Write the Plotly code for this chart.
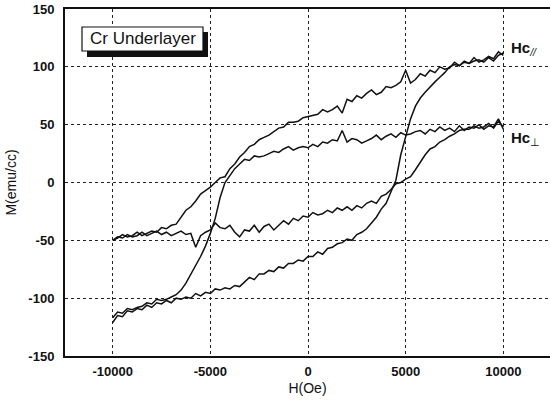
import plotly.graph_objects as go

# Field grids (Oe)
H_desc = [10000 - 250 * i for i in range(81)]
H_asc = [-10000 + 250 * i for i in range(81)]

# Branch A, descending (from +10000 to -10000)
M_a_desc = [110, 113, 107, 109, 106, 104, 108, 103, 105, 101,
            104, 99, 98, 100, 95, 97, 92, 94, 89, 86,
            97, 87, 84, 82, 83, 78, 76, 80, 77, 73,
            75, 70, 72, 60, 66, 63, 61, 63, 59, 58,
            57, 56, 53, 52, 52, 48, 47, 44, 41, 39,
            37, 33, 31, 26, 22, 16, 12, 5, 4, 0,
            -4, -7, -10, -16, -21, -24, -30, -36, -37, -40,
            -39, -43, -42, -44, -46, -43, -46, -47, -45, -48,
            -50]

# Branch A, ascending (from -10000 to +10000)
M_a_asc = [-50, -47, -48, -45, -47, -46, -43, -46, -44, -42,
           -45, -43, -46, -44, -42, -45, -44, -56, -46, -43,
           -41, -35, -39, -40, -37, -43, -47, -41, -42, -37,
           -43, -38, -36, -41, -37, -33, -36, -31, -33, -29,
           -30, -26, -28, -27, -24, -26, -22, -24, -21, -24,
           -20, -22, -18, -16, -18, -12, -10, -6, -1, 0,
           3, 5, 11, 18, 24, 29, 31, 35, 37, 40,
           42, 45, 46, 46, 49, 47, 48, 51, 47, 53,
           48]

# Branch B, descending (from +10000 to -10000)
M_b_desc = [46, 55, 48, 49, 46, 50, 47, 48, 45, 49,
            44, 47, 45, 48, 44, 46, 42, 45, 44, 42,
            41, 43, 39, 42, 40, 37, 41, 38, 36, 34,
            37, 38, 35, 45, 36, 37, 34, 35, 31, 33,
            30, 31, 30, 28, 31, 29, 26, 27, 25, 23,
            22, 23, 19, 20, 16, 12, 6, 0, -13, -31,
            -44, -55, -64, -72, -80, -87, -93, -97, -99, -101,
            -102, -101, -105, -104, -107, -108, -110, -109, -113, -112,
            -117]

# Branch B, ascending (from -10000 to +10000)
M_b_asc = [-121, -115, -116, -111, -112, -109, -110, -106, -108, -104,
           -105, -102, -104, -100, -101, -99, -100, -96, -98, -95,
           -96, -92, -93, -91, -92, -89, -90, -86, -82, -84,
           -79, -79, -76, -77, -73, -74, -70, -70, -67, -68,
           -64, -64, -60, -62, -57, -56, -53, -52, -49, -50,
           -45, -43, -40, -35, -30, -23, -18, -8, 2, 24,
           40, 55, 66, 73, 78, 83, 87, 91, 95, 100,
           102, 101, 104, 103, 105, 106, 104, 108, 105, 110,
           112]

x_ticks = [-10000, -5000, 0, 5000, 10000]
y_ticks = [-150, -100, -50, 0, 50, 100, 150]

fig = go.Figure()
line_style = dict(color="#111111", width=1.5)
for hx, my in [(H_desc, M_a_desc), (H_asc, M_a_asc), (H_desc, M_b_desc), (H_asc, M_b_asc)]:
    fig.add_trace(go.Scatter(x=hx, y=my, mode="lines", line=line_style,
                             showlegend=False, hoverinfo="skip"))

W, H = 550, 405
L, R, T, B = 65, 0, 9, 49

def px(xp):
    return (xp - L) / (W - L - R)

def py(yp):
    return (H - B - yp) / (H - T - B)

fig.update_layout(
    width=W, height=H, autosize=False,
    margin=dict(l=L, r=R, t=T, b=B, pad=0),
    paper_bgcolor="white", plot_bgcolor="white",
    font=dict(family="Arial, Liberation Sans, sans-serif", color="#111111", size=13),
    xaxis=dict(range=[-12442, 12391], tickvals=x_ticks,
               ticktext=["<b>%d</b>" % v for v in x_ticks],
               showgrid=True, gridcolor="#222222", griddash="dot", gridwidth=1,
               showline=True, linecolor="#111111", linewidth=2, mirror=True,
               zeroline=False, ticks="outside", ticklen=2, tickcolor="rgba(0,0,0,0)",
               tickfont=dict(size=13),
               title=dict(text="H(Oe)", font=dict(size=14), standoff=6)),
    yaxis=dict(range=[-150, 150], tickvals=y_ticks,
               ticktext=["<b>%d</b>" % v for v in y_ticks],
               showgrid=True, gridcolor="#222222", griddash="dot", gridwidth=1,
               showline=True, linecolor="#111111", linewidth=2, mirror=False,
               zeroline=False, ticks="outside", ticklen=6, tickcolor="rgba(0,0,0,0)",
               tickfont=dict(size=13),
               title=dict(text="M(emu/cc)", font=dict(size=14), standoff=8)),
)

# Label box with drop shadow
fig.add_shape(type="rect", xref="paper", yref="paper",
              x0=px(87), x1=px(208), y0=py(57), y1=py(32),
              fillcolor="#111111", line=dict(width=0))
fig.add_shape(type="rect", xref="paper", yref="paper",
              x0=px(82), x1=px(203), y0=py(51), y1=py(27),
              fillcolor="white", line=dict(color="#111111", width=1.2))
fig.add_annotation(xref="paper", yref="paper", x=px(142.5), y=py(39),
                   text="Cr Underlayer", showarrow=False,
                   font=dict(size=17, color="#111111"), xanchor="center", yanchor="middle")

fig.add_annotation(x=10300, y=116, text="<b>Hc</b><sub><i>//</i></sub>", showarrow=False,
                   xanchor="left", yanchor="middle", font=dict(size=15, color="#111111"))
fig.add_annotation(x=10300, y=38, text="<b>Hc</b><sub>⊥</sub>", showarrow=False,
                   xanchor="left", yanchor="middle", font=dict(size=15, color="#111111"))

fig.write_html("out.html")
